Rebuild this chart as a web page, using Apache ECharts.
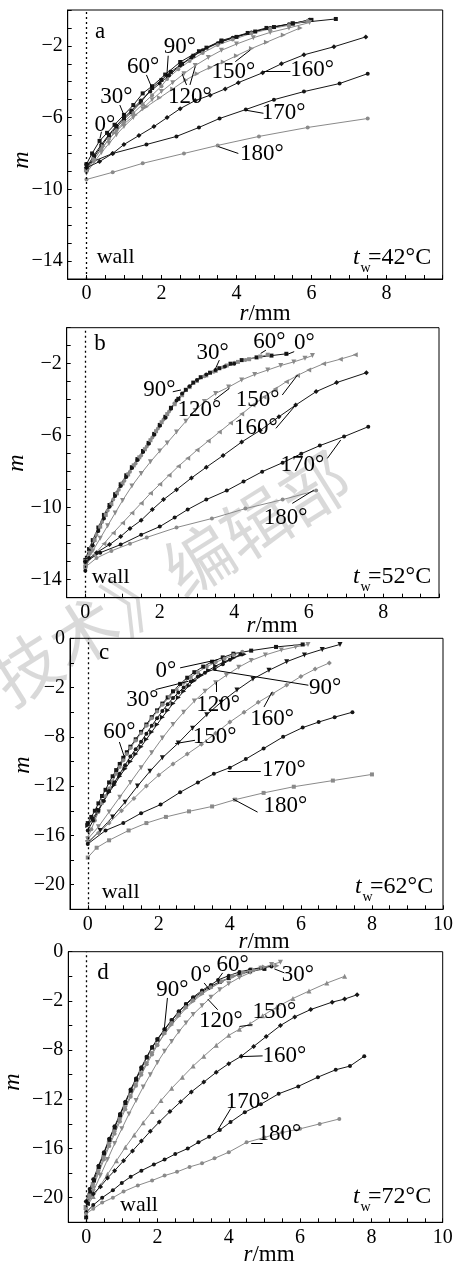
<!DOCTYPE html>
<html><head><meta charset="utf-8">
<script src="https://cdn.jsdelivr.net/npm/echarts@6/dist/echarts.min.js"></script>
<style>html,body{margin:0;padding:0;background:#fff}#c{width:456px;height:1265px}</style>
</head><body><div id="c"></div>
<script>
// ---------- data (r in mm, m) ----------
const angles = ['0°','30°','60°','90°','120°','150°','160°','170°','180°'];

// panel a, tw = 42 °C
const a0 = [[0,-8.6],[0.15,-8.0],[0.35,-7.3],[0.55,-6.85],[0.75,-6.4],[1.0,-5.85],[1.25,-5.3],[1.5,-4.65],[1.75,-4.25],[2.1,-3.6],[2.5,-2.9],[3.0,-2.3],[3.6,-1.7],[4.3,-1.28],[4.8,-1.0],[5.5,-0.75],[6.65,-0.5]];
const a30 = [[0,-8.8],[0.2,-8.1],[0.4,-7.5],[0.6,-6.95],[0.8,-6.45],[1.0,-6.0],[1.2,-5.6],[1.45,-5.05],[1.7,-4.55],[1.95,-4.1],[2.2,-3.65],[2.5,-3.1],[2.8,-2.65],[3.1,-2.25],[3.5,-1.85],[3.9,-1.55],[4.4,-1.25],[4.9,-1.0],[5.4,-0.8],[5.95,-0.55]];
const a60 = [[0,-8.9],[0.2,-8.2],[0.4,-7.6],[0.6,-7.0],[0.8,-6.55],[1.0,-6.1],[1.2,-5.7],[1.45,-5.15],[1.75,-4.35],[2.0,-3.9],[2.25,-3.45],[2.55,-3.0],[2.85,-2.55],[3.2,-2.1],[3.6,-1.75],[4.0,-1.5],[4.5,-1.2],[5.0,-0.95],[5.5,-0.75],[6.0,-0.55]];
const a90 = [[0,-9.0],[0.2,-8.35],[0.4,-7.75],[0.6,-7.2],[0.8,-6.7],[1.0,-6.25],[1.25,-5.75],[1.5,-5.25],[1.75,-4.75],[2.0,-4.25],[2.15,-3.85],[2.45,-3.3],[2.75,-2.85],[3.1,-2.4],[3.5,-1.95],[3.9,-1.65],[4.4,-1.3],[4.9,-1.05],[5.4,-0.85],[5.9,-0.6]];
const a120 = [[0,-9.1],[0.2,-8.5],[0.4,-7.95],[0.6,-7.45],[0.8,-6.95],[1.0,-6.5],[1.25,-6.0],[1.5,-5.5],[1.75,-5.0],[2.0,-4.55],[2.3,-4.05],[2.6,-3.55],[2.9,-3.1],[3.25,-2.65],[3.6,-2.25],[4.0,-1.9],[4.45,-1.55],[4.9,-1.25],[5.4,-1.0],[5.95,-0.7]];
const a150 = [[0,-8.9],[0.2,-8.3],[0.45,-7.6],[0.75,-6.85],[1.0,-6.35],[1.3,-5.85],[1.6,-5.4],[1.95,-4.9],[2.3,-4.4],[2.65,-3.9],[2.95,-3.55],[3.3,-3.2],[3.65,-2.9],[4.0,-2.55],[4.4,-2.15],[4.8,-1.8],[5.25,-1.4],[5.7,-1.0]];
const a160 = [[0,-8.8],[0.35,-8.45],[0.7,-8.0],[1.0,-7.5],[1.4,-7.0],[1.8,-6.5],[2.15,-6.0],[2.5,-5.5],[2.9,-5.05],[3.3,-4.75],[3.7,-4.4],[4.05,-4.05],[4.7,-3.5],[5.2,-3.0],[5.8,-2.5],[6.6,-2.05],[7.45,-1.5]];
const a170 = [[0,-8.6],[0.7,-8.0],[1.6,-7.5],[2.4,-7.05],[3.0,-6.55],[3.55,-6.05],[4.25,-5.55],[5.0,-5.0],[5.8,-4.55],[6.75,-4.1],[7.5,-3.55]];
const a180 = [[0,-9.45],[0.7,-9.05],[1.5,-8.55],[2.6,-8.0],[3.5,-7.55],[4.6,-7.05],[5.9,-6.55],[7.5,-6.05]];

// panel b, tw = 52 °C
const b0 = [[0,-12.9],[0.1,-12.3],[0.2,-11.8],[0.35,-11.1],[0.5,-10.4],[0.65,-9.85],[0.8,-9.25],[0.95,-8.7],[1.1,-8.2],[1.25,-7.75],[1.4,-7.3],[1.55,-6.85],[1.7,-6.4],[1.85,-5.9],[2.0,-5.4],[2.15,-4.95],[2.3,-4.45],[2.5,-3.95],[2.7,-3.45],[2.9,-3.05],[3.1,-2.75],[3.35,-2.5],[3.6,-2.25],[3.9,-2.0],[4.2,-1.8],[4.6,-1.65],[5.0,-1.55],[5.4,-1.45]];
const b30 = [[0,-13.1],[0.15,-12.2],[0.3,-11.5],[0.45,-10.8],[0.6,-10.15],[0.75,-9.55],[0.9,-9.0],[1.05,-8.5],[1.2,-8.0],[1.35,-7.55],[1.5,-7.1],[1.65,-6.6],[1.8,-6.1],[1.95,-5.6],[2.1,-5.1],[2.25,-4.65],[2.4,-4.2],[2.6,-3.7],[2.8,-3.3],[3.0,-2.95],[3.2,-2.7],[3.45,-2.45],[3.7,-2.2],[4.0,-1.95],[4.3,-1.8]];
const b60 = [[0,-13.3],[0.12,-12.5],[0.25,-11.8],[0.4,-11.05],[0.55,-10.4],[0.7,-9.8],[0.85,-9.2],[1.0,-8.65],[1.15,-8.15],[1.3,-7.65],[1.45,-7.2],[1.6,-6.75],[1.75,-6.25],[1.9,-5.75],[2.05,-5.25],[2.2,-4.8],[2.4,-4.25],[2.6,-3.75],[2.8,-3.3],[3.0,-2.95],[3.25,-2.65],[3.5,-2.4],[3.8,-2.1],[4.1,-1.9],[4.4,-1.75],[4.7,-1.6],[4.9,-1.5]];
const b90 = [[0,-13.5],[0.1,-12.8],[0.2,-12.1],[0.35,-11.3],[0.5,-10.6],[0.65,-9.95],[0.8,-9.35],[0.95,-8.8],[1.1,-8.3],[1.25,-7.8],[1.4,-7.35],[1.55,-6.9],[1.7,-6.45],[1.85,-5.95],[2.0,-5.45],[2.15,-5.0],[2.3,-4.5],[2.45,-4.05],[2.6,-3.65],[2.8,-3.25],[3.0,-2.9],[3.25,-2.6],[3.5,-2.35],[3.75,-2.15],[4.0,-2.0]];
const b120 = [[0,-13.0],[0.2,-12.4],[0.4,-11.7],[0.6,-11.0],[0.8,-10.3],[1.0,-9.6],[1.25,-8.8],[1.5,-8.1],[1.75,-7.45],[2.0,-6.85],[2.2,-6.4],[2.45,-5.8],[2.7,-5.2],[2.95,-4.6],[3.2,-4.1],[3.5,-3.65],[3.85,-3.3],[4.2,-2.9],[4.55,-2.6],[4.9,-2.35],[5.25,-2.1],[5.6,-1.9],[5.9,-1.7],[6.1,-1.55]];
const b150 = [[0,-13.2],[0.25,-12.6],[0.5,-12.0],[0.75,-11.4],[1.0,-10.85],[1.25,-10.3],[1.5,-9.75],[1.75,-9.2],[2.0,-8.7],[2.25,-8.2],[2.5,-7.7],[2.75,-7.25],[3.0,-6.8],[3.3,-6.3],[3.6,-5.8],[3.9,-5.3],[4.2,-4.8],[4.5,-4.3],[4.8,-3.85],[5.1,-3.4],[5.4,-3.0],[5.7,-2.65],[6.0,-2.35],[6.4,-2.0],[6.85,-1.75],[7.25,-1.5]];
const b160 = [[0,-13.0],[0.3,-12.5],[0.65,-12.05],[0.95,-11.6],[1.2,-11.15],[1.5,-10.7],[1.8,-10.1],[2.1,-9.55],[2.45,-9.0],[2.85,-8.35],[3.25,-7.75],[3.7,-7.1],[4.2,-6.35],[4.7,-5.7],[5.2,-4.95],[5.65,-4.3],[6.2,-3.55],[6.75,-3.05],[7.55,-2.5]];
const b170 = [[0,-13.0],[0.4,-12.5],[0.95,-12.05],[1.5,-11.5],[2.0,-11.05],[2.4,-10.55],[2.75,-10.1],[3.25,-9.55],[3.8,-9.05],[4.25,-8.55],[4.75,-8.0],[5.3,-7.5],[5.8,-7.0],[6.3,-6.55],[6.95,-6.05],[7.6,-5.5]];
const b180 = [[0,-13.3],[0.3,-12.8],[0.7,-12.4],[1.2,-12.0],[1.65,-11.65],[2.45,-11.1],[3.4,-10.6],[4.3,-10.05],[5.3,-9.55],[6.2,-9.05]];

// panel c, tw = 62 °C
const c0 = [[0,-15.0],[0.1,-14.5],[0.2,-14.0],[0.3,-13.4],[0.4,-12.8],[0.5,-12.3],[0.6,-11.7],[0.7,-11.2],[0.8,-10.7],[0.9,-10.2],[1.0,-9.7],[1.1,-9.25],[1.2,-8.8],[1.35,-8.2],[1.5,-7.6],[1.65,-7.0],[1.8,-6.4],[1.95,-5.85],[2.1,-5.3],[2.25,-4.8],[2.4,-4.3],[2.6,-3.7],[2.8,-3.2],[3.0,-2.75],[3.25,-2.3],[3.5,-1.9],[3.8,-1.55],[4.1,-1.25],[4.6,-1.0],[5.3,-0.7],[6.05,-0.5]];
const c30 = [[0,-15.2],[0.15,-14.6],[0.3,-13.9],[0.45,-13.2],[0.6,-12.5],[0.75,-11.9],[0.9,-11.2],[1.05,-10.6],[1.2,-10.0],[1.35,-9.4],[1.5,-8.8],[1.65,-8.2],[1.8,-7.6],[1.95,-7.0],[2.1,-6.4],[2.25,-5.85],[2.4,-5.3],[2.55,-4.8],[2.7,-4.3],[2.85,-3.85],[3.0,-3.45],[3.2,-3.0],[3.4,-2.6],[3.6,-2.25],[3.85,-1.9],[4.1,-1.6],[4.4,-1.3]];
const c60 = [[0,-16.2],[0.1,-15.5],[0.2,-14.8],[0.3,-14.1],[0.4,-13.4],[0.5,-12.8],[0.6,-12.2],[0.7,-11.6],[0.8,-11.0],[0.9,-10.45],[1.0,-9.9],[1.1,-9.4],[1.2,-8.9],[1.35,-8.3],[1.5,-7.7],[1.65,-7.1],[1.8,-6.5],[1.95,-5.95],[2.1,-5.4],[2.3,-4.75],[2.5,-4.15],[2.7,-3.6],[2.9,-3.15],[3.1,-2.75],[3.35,-2.3],[3.6,-1.95],[3.85,-1.65],[4.1,-1.35],[4.35,-1.1]];
const c90 = [[0,-15.6],[0.15,-14.8],[0.3,-14.0],[0.45,-13.2],[0.6,-12.4],[0.75,-11.7],[0.9,-11.0],[1.05,-10.3],[1.2,-9.6],[1.35,-9.0],[1.5,-8.4],[1.65,-7.75],[1.8,-7.1],[1.95,-6.5],[2.1,-5.9],[2.25,-5.35],[2.4,-4.85],[2.55,-4.4],[2.7,-4.0],[2.9,-3.5],[3.1,-3.1],[3.3,-2.8],[3.57,-2.5],[3.8,-2.1],[4.0,-1.75],[4.3,-1.3]];
const c120 = [[0,-16.3],[0.3,-15.3],[0.6,-14.1],[0.9,-12.9],[1.2,-11.7],[1.5,-10.5],[1.8,-9.3],[2.1,-8.1],[2.4,-7.0],[2.7,-6.0],[3.0,-5.1],[3.3,-4.3],[3.6,-3.6],[3.9,-3.0],[4.25,-2.35],[4.6,-1.8],[5.0,-1.35],[5.45,-0.95],[5.85,-0.7],[6.2,-0.5]];
const c150 = [[0,-16.6],[0.35,-15.6],[0.7,-14.5],[1.05,-13.3],[1.4,-12.0],[1.75,-10.8],[2.1,-9.7],[2.55,-8.5],[2.95,-7.3],[3.35,-6.2],[3.75,-5.2],[4.2,-4.2],[4.65,-3.3],[5.1,-2.6],[5.6,-1.9],[6.1,-1.35],[6.6,-0.9],[7.1,-0.5]];
const c160 = [[0,-16.5],[0.3,-15.8],[0.6,-15.0],[0.95,-14.0],[1.3,-13.0],[1.65,-12.0],[2.0,-11.1],[2.4,-10.2],[2.8,-9.4],[3.2,-8.6],[3.6,-7.7],[4.0,-6.8],[4.4,-6.0],[4.8,-5.2],[5.2,-4.5],[5.6,-3.8],[6.0,-3.1],[6.4,-2.5],[6.8,-2.0]];
const c170 = [[0,-16.7],[0.5,-15.6],[1.0,-15.0],[1.5,-14.2],[2.05,-13.5],[2.6,-12.5],[3.1,-11.7],[3.55,-11.0],[4.0,-10.5],[4.45,-9.8],[4.95,-8.95],[5.5,-8.0],[6.05,-7.25],[6.5,-6.8],[6.95,-6.4],[7.45,-6.0]];
const c180 = [[0,-17.8],[0.25,-17.0],[0.6,-16.4],[1.15,-15.6],[1.65,-15.0],[2.2,-14.5],[2.85,-14.05],[3.5,-13.65],[4.15,-13.1],[4.95,-12.55],[5.8,-12.05],[6.9,-11.55],[8.0,-11.05]];

// panel d, tw = 72 °C
const d0 = [[0,-21.6],[0.05,-20.5],[0.12,-19.5],[0.22,-18.6],[0.35,-17.5],[0.5,-16.4],[0.65,-15.3],[0.8,-14.3],[0.95,-13.3],[1.1,-12.3],[1.25,-11.3],[1.4,-10.4],[1.55,-9.5],[1.7,-8.6],[1.85,-7.8],[2.0,-7.15],[2.2,-6.35],[2.4,-5.6],[2.6,-4.9],[2.8,-4.3],[3.0,-3.8],[3.25,-3.25],[3.5,-2.8],[3.75,-2.45],[4.0,-2.15],[4.3,-1.85],[4.6,-1.6],[5.0,-1.4]];
const d30 = [[0,-20.8],[0.1,-19.8],[0.2,-18.9],[0.35,-17.8],[0.5,-16.7],[0.65,-15.6],[0.8,-14.6],[0.95,-13.6],[1.1,-12.6],[1.25,-11.65],[1.4,-10.75],[1.55,-9.85],[1.7,-9.0],[1.85,-8.2],[2.0,-7.5],[2.2,-6.7],[2.4,-5.95],[2.6,-5.25],[2.8,-4.6],[3.0,-4.05],[3.25,-3.45],[3.5,-2.95],[3.8,-2.45],[4.1,-2.05],[4.4,-1.7],[4.7,-1.45],[5.0,-1.25],[5.35,-1.15]];
const d60 = [[0,-20.3],[0.1,-19.3],[0.2,-18.5],[0.35,-17.4],[0.5,-16.3],[0.65,-15.2],[0.8,-14.2],[0.95,-13.2],[1.1,-12.2],[1.25,-11.2],[1.4,-10.3],[1.55,-9.4],[1.7,-8.55],[1.85,-7.75],[2.0,-7.1],[2.2,-6.3],[2.4,-5.55],[2.6,-4.85],[2.8,-4.25],[3.0,-3.7],[3.25,-3.15],[3.5,-2.7],[3.7,-2.3],[4.0,-1.95],[4.3,-1.65],[4.6,-1.45],[4.9,-1.3],[5.2,-1.2]];
const d90 = [[0,-21.0],[0.1,-20.0],[0.2,-19.1],[0.35,-18.0],[0.5,-16.9],[0.65,-15.8],[0.8,-14.8],[0.95,-13.8],[1.1,-12.8],[1.25,-11.8],[1.4,-10.9],[1.55,-10.0],[1.7,-9.15],[1.85,-8.35],[2.0,-7.6],[2.2,-6.6],[2.4,-5.8],[2.6,-5.1],[2.8,-4.5],[3.0,-3.95],[3.25,-3.35],[3.5,-2.9],[3.8,-2.4],[4.1,-2.0],[4.4,-1.7],[4.7,-1.5]];
const d120 = [[0,-20.8],[0.2,-19.5],[0.4,-18.2],[0.6,-16.9],[0.8,-15.6],[1.0,-14.4],[1.2,-13.2],[1.4,-12.1],[1.6,-11.0],[1.8,-10.0],[2.0,-9.0],[2.2,-8.1],[2.4,-7.3],[2.6,-6.5],[2.8,-5.8],[3.0,-5.1],[3.25,-4.4],[3.5,-3.7],[3.75,-3.1],[4.0,-2.6],[4.3,-2.1],[4.6,-1.7],[4.9,-1.35],[5.2,-1.05],[5.45,-0.85]];
const d150 = [[0,-20.8],[0.2,-19.9],[0.4,-19.0],[0.6,-18.1],[0.85,-17.0],[1.1,-15.9],[1.35,-14.9],[1.6,-13.9],[1.85,-13.0],[2.1,-12.1],[2.4,-11.1],[2.7,-10.2],[3.0,-9.3],[3.3,-8.5],[3.65,-7.6],[4.0,-6.8],[4.3,-6.3],[4.6,-5.85],[4.95,-5.2],[5.35,-4.5],[5.8,-3.8],[6.25,-3.2],[6.75,-2.55],[7.25,-2.0]];
const d160 = [[0,-20.3],[0.2,-19.7],[0.4,-19.1],[0.6,-18.4],[0.8,-17.8],[1.05,-17.0],[1.3,-16.2],[1.55,-15.4],[1.8,-14.6],[2.05,-13.85],[2.35,-13.0],[2.65,-12.2],[2.95,-11.4],[3.3,-10.6],[3.65,-9.8],[4.0,-9.1],[4.35,-8.5],[4.7,-7.7],[5.05,-6.9],[5.45,-6.0],[5.85,-5.3],[6.3,-4.7],[6.9,-4.1],[7.25,-3.85],[7.6,-3.5]];
const d170 = [[0,-21.2],[0.2,-20.6],[0.45,-20.0],[0.75,-19.4],[1.0,-18.8],[1.25,-18.3],[1.55,-17.8],[1.9,-17.3],[2.2,-16.9],[2.5,-16.45],[2.85,-16.0],[3.15,-15.5],[3.45,-15.05],[3.75,-14.5],[4.05,-13.85],[4.45,-13.05],[4.9,-12.4],[5.4,-11.55],[5.95,-10.95],[6.5,-10.2],[7.0,-9.6],[7.4,-9.3],[7.8,-8.5]];
const d180 = [[0,-21.3],[0.2,-20.9],[0.45,-20.4],[0.75,-20.0],[1.05,-19.5],[1.45,-19.0],[1.85,-18.6],[2.2,-18.2],[2.55,-17.9],[2.9,-17.5],[3.25,-17.2],[3.6,-16.8],[4.0,-16.3],[4.5,-15.5],[5.0,-15.1],[5.5,-14.7],[6.0,-14.4],[6.55,-14.0],[7.1,-13.6]];

// tick labels
const xTicksAB = [0,2,4,6,8];
const xTicksCD = [0,2,4,6,8,10];
const yTicksAB = [-2,-6,-10,-14];
const yLabelsAB = ['\u22122','\u22126','\u221210','\u221214'];
const yTicksCD = [0,-4,-8,-12,-16,-20];
const yLabelsCD = ['0','\u22122','\u22128','\u221212','\u221216','\u221220'];
const tempLabels = ['=42°C','=52°C','=62°C','=72°C'];
const panelLetters = ['a','b','c','d'];
const watermark = '技术》编辑部';

// annotation labels [text, r, m] and arrows [r0, m0, r1, m1]
const labelsA = [['90°',2.49,-2.05],['60°',1.51,-3.16],['30°',0.8,-4.83],['0°',0.49,-6.41],['120°',2.76,-4.83],['150°',3.92,-3.44],['160°',6.02,-3.35],['170°',5.26,-5.76],['180°',4.68,-8.0]];
const arrowsA = [[2.18,-2.55,2.14,-3.8],[1.6,-3.62,1.74,-4.31],[0.89,-5.3,1.0,-5.86],[0.4,-6.79,0.36,-7.16],[2.67,-4.18,2.55,-3.55],[2.76,-4.18,2.9,-3.16],[3.97,-2.88,4.37,-2.23],[5.44,-3.44,4.72,-3.44],[4.72,-5.76,4.23,-5.58],[4.05,-8.0,3.52,-7.62]];
const labelsB = [['30°',3.42,-1.43],['60°',4.94,-0.78],['0°',5.88,-0.87],['90°',1.99,-3.46],['120°',3.06,-4.57],['150°',4.63,-4.02],['160°',4.58,-5.59],['170°',5.83,-7.63],['180°',5.38,-10.59]];
const arrowsB = [[3.6,-1.8,3.46,-2.44],[4.85,-1.25,4.71,-1.43],[5.61,-1.33,5.38,-1.52],[2.35,-3.56,2.57,-3.46],[3.46,-4.02,3.87,-3.37],[5.29,-3.74,5.7,-2.63],[5.12,-5.59,5.65,-4.3],[6.5,-7.26,6.86,-6.24],[5.56,-9.76,6.14,-9.02]];
const labelsC = [['0°',2.2,-2.65],['30°',1.54,-5.03],['60°',0.89,-7.61],['90°',6.68,-4.0],['120°',3.67,-5.44],['150°',3.57,-8.02],['160°',5.19,-6.52],['170°',5.52,-10.67],['180°',5.56,-13.57]];
const arrowsC = [[2.6,-2.4,3.67,-1.73],[1.91,-4.16,2.83,-3.49],[0.89,-8.42,1.03,-9.64],[6.21,-3.81,3.57,-2.59],[3.62,-4.36,3.62,-3.54],[3.02,-8.28,2.46,-8.55],[4.96,-5.58,5.19,-4.36],[4.87,-10.8,3.94,-10.8],[4.78,-14.11,4.08,-13.03]];
const labelsD = [['90°',2.42,-3.09],['0°',3.22,-1.86],['60°',4.11,-1.04],['30°',5.94,-1.86],['120°',3.78,-5.6],['150°',5.28,-4.9],['160°',5.56,-8.47],['170°',4.53,-12.2],['180°',5.42,-14.78]];
const arrowsD = [[2.28,-3.76,2.19,-6.35],[3.31,-2.54,3.46,-3.09],[3.83,-1.72,3.69,-2.27],[5.56,-1.72,5.28,-1.4],[3.69,-4.72,3.41,-3.85],[4.67,-5.94,4.3,-6.08],[4.95,-8.47,4.35,-8.53],[4.06,-12.74,3.69,-14.51],[4.95,-15.6,4.63,-15.6]];

// ---------- styles ----------
const K = '#161616', G = '#8a8a8a';
const styleA = [[K,'rect',0],[K,'circle',0],[K,'rect',0],[G,'circle',0],[G,'triangle',180],[G,'triangle',-90],[K,'diamond',0],[K,'circle',0],[G,'circle',0]];
const styleB = [[K,'rect',0],[G,'circle',0],[G,'rect',0],[K,'circle',0],[G,'triangle',180],[G,'triangle',90],[K,'diamond',0],[K,'circle',0],[G,'circle',0]];
const styleC = [[K,'rect',0],[K,'triangle',-90],[G,'circle',0],[K,'circle',0],[G,'triangle',180],[K,'triangle',180],[G,'diamond',0],[K,'circle',0],[G,'rect',0]];
const styleD = [[K,'rect',0],[G,'triangle',-90],[K,'circle',0],[G,'circle',0],[G,'triangle',180],[G,'triangle',0],[K,'diamond',0],[K,'circle',0],[G,'circle',0]];

const FONT = '"Liberation Serif","Times New Roman",serif';

const panels = [
  {grid:{left:67.7,top:10,width:375,height:269}, xMax:9.5, yMin:-15, yInt:1, xT:xTicksAB, yT:yTicksAB, yL:yLabelsAB,
   data:[a0,a30,a60,a90,a120,a150,a160,a170,a180], style:styleA, labels:labelsA, arrows:arrowsA,
   txt:{letter:[100,32], wall:[96.7,257], tw:[353,258], m:[21.7,160], rmm:[265,314]}},
  {grid:{left:66.7,top:327.7,width:372.3,height:270}, xMax:9.5, yMin:-15, yInt:1, xT:xTicksAB, yT:yTicksAB, yL:yLabelsAB,
   data:[b0,b30,b60,b90,b120,b150,b160,b170,b180], style:styleB, labels:labelsB, arrows:arrowsB,
   txt:{letter:[100,344], wall:[91.7,577], tw:[353,577], m:[16.7,463], rmm:[272,626]}},
  {grid:{left:70,top:638.3,width:374,height:271}, xMax:10, yMin:-22, yInt:2, xT:xTicksCD, yT:yTicksCD, yL:yLabelsCD,
   data:[c0,c30,c60,c90,c120,c150,c160,c170,c180], style:styleC, labels:labelsC, arrows:arrowsC,
   txt:{letter:[104,653], wall:[101.7,892], tw:[355,887], m:[22.5,765], rmm:[264,942]}},
  {grid:{left:68.3,top:951.7,width:374.4,height:270.6}, xMax:10, yMin:-22, yInt:2, xT:xTicksCD, yT:yTicksCD, yL:yLabelsCD,
   data:[d0,d30,d60,d90,d120,d150,d160,d170,d180], style:styleD, labels:labelsD, arrows:arrowsD,
   txt:{letter:[103,973], wall:[120,1205], tw:[353,1197], m:[12.5,1082], rmm:[269,1255]}}
];

const grids = [], xAxes = [], yAxes = [], series = [], graphics = [];
function T(x, y, text, size, opt) {
  opt = opt || {};
  return {type:'text', x:x, y:y, rotation:opt.rot || 0, silent:true, z:opt.z || 100,
    style:{text:text, font:(opt.it ? 'italic ' : '') + size + 'px ' + (opt.font || FONT), fill:opt.fill || '#000',
      align:opt.align || 'left', verticalAlign:'middle', rich:opt.rich}};
}

// faint watermark of the source page
graphics.push(T(170, 578, watermark, 68, {align:'center', rot:0.56, fill:'rgba(0,0,0,0.15)',
  font:'"Noto Sans CJK SC",sans-serif', z:-10}));

panels.forEach(function (p, i) {
  grids.push(Object.assign({show:true, borderColor:'#000', borderWidth:1, backgroundColor:'transparent', containLabel:false}, p.grid));
  xAxes.push({gridIndex:i, type:'value', min:-0.5, max:p.xMax, interval:0.5,
    axisLine:{show:true, onZero:false, lineStyle:{color:'#000', width:1}},
    axisTick:{show:true, inside:true, length:4, lineStyle:{color:'#000', width:1}},
    axisLabel:{color:'#000', fontFamily:FONT, fontSize:20, margin:5,
      formatter:function (v) { return p.xT.indexOf(v) >= 0 ? String(v) : ''; }},
    splitLine:{show:false}});
  yAxes.push({gridIndex:i, type:'value', min:p.yMin, max:0, interval:p.yInt,
    axisLine:{show:true, onZero:false, lineStyle:{color:'#000', width:1}},
    axisTick:{show:true, inside:true, length:4, lineStyle:{color:'#000', width:1}},
    axisLabel:{color:'#000', fontFamily:FONT, fontSize:20, margin:5,
      formatter:function (v) { var k = p.yT.indexOf(v); return k >= 0 ? p.yL[k] : ''; }},
    splitLine:{show:false}});

  p.data.forEach(function (d, j) {
    var st = p.style[j];
    series.push({type:'line', name:angles[j], xAxisIndex:i, yAxisIndex:i, data:d,
      symbol:st[1], symbolRotate:st[2], symbolSize:(st[1] === 'triangle' || st[1] === 'diamond') ? 5 : 4,
      showSymbol:true, showAllSymbol:true, silent:true, animation:false, z:3,
      lineStyle:{color:st[0], width:1}, itemStyle:{color:st[0], borderWidth:0}});
  });

  // wall line
  series.push({type:'line', xAxisIndex:i, yAxisIndex:i, data:[], silent:true, animation:false,
    markLine:{silent:true, symbol:'none', animation:false, label:{show:false},
      lineStyle:{color:'#000', width:1.3, type:[2,3]}, data:[{xAxis:0}]}});
  // arrows
  series.push({type:'line', xAxisIndex:i, yAxisIndex:i, data:[], silent:true, animation:false, z:6,
    markLine:{silent:true, symbol:['none','arrow'], symbolSize:[0,6], animation:false, label:{show:false},
      lineStyle:{color:'#000', width:1, type:'solid'},
      data:p.arrows.map(function (a) { return [{coord:[a[0], a[1]]}, {coord:[a[2], a[3]]}]; })}});
  // angle labels (text placed at data coordinates)
  var lab = p.labels;
  series.push({type:'custom', xAxisIndex:i, yAxisIndex:i, silent:true, animation:false, z:8, clip:false,
    data:lab.map(function (l) { return [l[1], l[2]]; }),
    renderItem:function (params, api) {
      var pt = api.coord([api.value(0), api.value(1)]);
      return {type:'text', x:pt[0], y:pt[1],
        style:{text:lab[params.dataIndex][0], fill:'#000', font:'23px ' + FONT, align:'center', verticalAlign:'middle'}};
    }});

  var t = p.txt;
  graphics.push(T(t.letter[0], t.letter[1], panelLetters[i], 23, {align:'center'}));
  graphics.push(T(t.wall[0], t.wall[1], 'wall', 22));
  graphics.push(T(t.tw[0], t.tw[1], 't', 24, {it:true}));
  graphics.push(T(t.tw[0] + 7.5, t.tw[1] + 10, 'w', 14));
  graphics.push(T(t.tw[0] + 15, t.tw[1], tempLabels[i], 24));
  graphics.push(T(t.m[0], t.m[1], 'm', 24, {it:true, align:'center', rot:Math.PI / 2}));
  graphics.push(T(t.rmm[0], t.rmm[1], '{i|r}/mm', 23, {align:'center',
    rich:{i:{fontStyle:'italic', fontFamily:FONT, fontSize:23}}}));
});

const chart = echarts.init(document.getElementById('c'));
chart.setOption({
  animation:false,
  backgroundColor:'#fff',
  grid:grids, xAxis:xAxes, yAxis:yAxes, series:series, graphic:graphics
});
</script>
</body></html>
